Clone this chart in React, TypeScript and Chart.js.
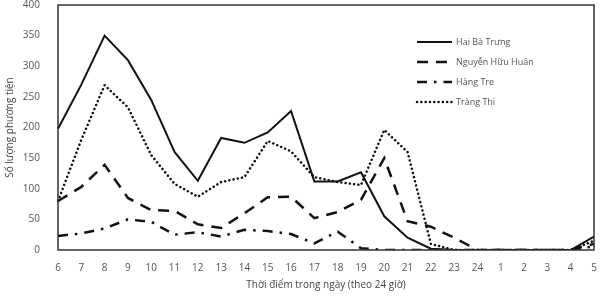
import React, { useEffect, useRef } from "react";
import { Chart, registerables } from "chart.js";

Chart.register(...registerables);

const hours = ["6","7","8","9","10","11","12","13","14","15","16","17","18","19","20","21","22","23","24","1","2","3","4","5"];
const haiBaTrung = [198,270,350,310,245,160,113,183,175,192,227,112,112,127,55,20,2,0,0,0,0,0,0,22];
const nguyenHuuHuan = [80,103,139,85,65,64,42,36,60,86,87,52,62,82,150,47,38,20,0,0,0,0,0,10];
const hangTre = [23,27,35,50,46,25,29,22,33,31,26,11,30,3,0,0,0,0,0,0,0,0,0,6];
const trangThi = [80,180,269,233,155,108,87,111,119,178,161,119,111,106,196,160,10,0,0,0,0,0,0,15];
const seriesNames = ["Hai Bà Trưng", "Nguyễn Hữu Huân", "Hàng Tre", "Tràng Thi"];
const yTicks = [0,50,100,150,200,250,300,350,400];

const FONT = "'Open Sans', 'Liberation Sans', sans-serif";

const boxAndLegend = {
  id: "boxAndLegend",
  afterDraw(chart: any) {
    const { ctx, chartArea } = chart;
    ctx.save();
    ctx.strokeStyle = "#333";
    ctx.lineWidth = 1.5;
    ctx.strokeRect(chartArea.left, chartArea.top, chartArea.right - chartArea.left, chartArea.bottom - chartArea.top);
    const lx = 417, lw = 35;
    chart.data.datasets.forEach((ds: any, i: number) => {
      const y = 42 + i * 20;
      ctx.beginPath();
      ctx.setLineDash(ds.borderDash || []);
      ctx.lineCap = ds.borderCapStyle || "butt";
      ctx.lineWidth = ds.borderWidth;
      ctx.strokeStyle = ds.borderColor;
      ctx.moveTo(lx, y);
      ctx.lineTo(lx + lw, y);
      ctx.stroke();
      ctx.setLineDash([]);
      ctx.fillStyle = "#555";
      ctx.font = "9px " + FONT;
      ctx.textBaseline = "middle";
      ctx.textAlign = "left";
      ctx.fillText(ds.label, lx + lw + 4, y);
    });
    ctx.restore();
  },
};

export default function App() {
  const ref = useRef<HTMLCanvasElement>(null);
  useEffect(() => {
    document.body.style.margin = "0";
    const common = { borderColor: "#111", pointRadius: 0, tension: 0, fill: false };
    const chart = new Chart(ref.current!, {
      type: "line",
      data: {
        labels: hours,
        datasets: [
          { ...common, label: seriesNames[0], data: haiBaTrung, borderWidth: 2 },
          { ...common, label: seriesNames[1], data: nguyenHuuHuan, borderWidth: 2.5, borderDash: [11, 8] },
          { ...common, label: seriesNames[2], data: hangTre, borderWidth: 2.5, borderDash: [10, 7, 2.5, 7] },
          { ...common, label: seriesNames[3], data: trangThi, borderWidth: 2.5, borderDash: [0.1, 4.2], borderCapStyle: "round" },
        ],
      } as any,
      options: {
        animation: false,
        responsive: false,
        maintainAspectRatio: false,
        layout: { padding: { top: 5, right: 12, left: 4, bottom: 6 } },
        plugins: { legend: { display: false }, tooltip: { enabled: false } },
        scales: {
          x: {
            offset: false,
            grid: { display: false },
            border: { display: false },
            ticks: { color: "#555", font: { family: FONT, size: 10 }, maxRotation: 0, autoSkip: false, padding: 4 },
            title: { display: true, text: "Thời điểm trong ngày (theo 24 giờ)", color: "#444", font: { family: FONT, size: 10 }, padding: { top: 2, bottom: 0 } },
            afterFit: (s: any) => { s.height = 41; },
          },
          y: {
            min: 0,
            max: 400,
            grid: { display: false },
            border: { display: false },
            afterBuildTicks: (s: any) => { s.ticks = yTicks.map((v) => ({ value: v })); },
            ticks: { color: "#555", font: { family: FONT, size: 10 }, padding: 10 },
            title: { display: true, text: "Số lượng phương tiện", color: "#444", font: { family: FONT, size: 10 }, padding: { top: 0, bottom: 4 } },
            afterFit: (s: any) => { s.width = 54; s.paddingTop = 0; s.paddingBottom = 0; },
          },
        },
      },
      plugins: [boxAndLegend],
    });
    return () => chart.destroy();
  }, []);
  return <canvas ref={ref} width={606} height={297} style={{ display: "block" }} />;
}
